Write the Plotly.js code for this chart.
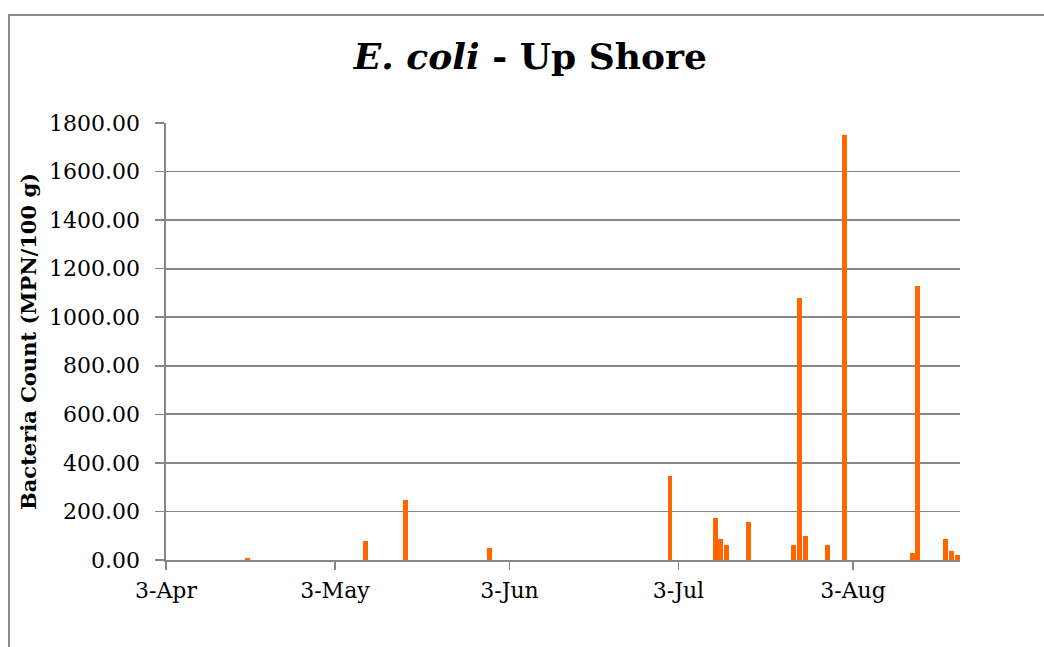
<!DOCTYPE html>
<html>
<head>
<meta charset="utf-8">
<script src="https://cdn.plot.ly/plotly-3.0.1.min.js"></script>
<style>
  html, body { margin: 0; padding: 0; background: #fff; }
  #chart { width: 1044px; height: 647px; }
  #frame { position: absolute; left: 8px; top: 14px; width: 1100px; height: 700px;
           border: 2px solid #8c8c8c; pointer-events: none; box-sizing: border-box; }
</style>
</head>
<body>
<div id="chart"></div>
<div id="frame"></div>
<script>
// Sampling dates (daily bins) and E. coli counts (MPN/100 g)
const sampleDates = ['2013-04-17','2013-05-08','2013-05-15','2013-05-30','2013-07-01',
  '2013-07-09','2013-07-10','2013-07-11','2013-07-15','2013-07-23','2013-07-24',
  '2013-07-25','2013-07-29','2013-08-01','2013-08-13','2013-08-14','2013-08-19',
  '2013-08-20','2013-08-21'];
const ecoliCounts = [10, 77, 248, 48, 345, 174, 88, 62, 158, 60, 1078, 99, 63, 1752, 27, 1128, 88, 36, 19];

const xRange = ['2013-04-03', '2013-08-22'];
const xTickStart = '2013-04-03';
const yTickValues = [0, 200, 400, 600, 800, 1000, 1200, 1400, 1600, 1800];

const DAY = 86400000;
const serif = 'DejaVu Serif, Liberation Serif, serif';
const gray = '#868686';

const trace = {
  type: 'bar',
  x: sampleDates,
  y: ecoliCounts,
  xperiod: DAY,
  xperiodalignment: 'middle',
  width: DAY * 0.88,
  marker: { color: '#ff6600', line: { width: 0 } },
  hoverinfo: 'x+y'
};

const layout = {
  width: 1044, height: 647,
  margin: { l: 166, r: 84, t: 123, b: 87 },
  paper_bgcolor: '#ffffff',
  plot_bgcolor: '#ffffff',
  showlegend: false,
  title: {
    text: '<b><i>E. coli</i> - Up Shore</b>',
    font: { family: serif, size: 36, color: '#000' },
    xref: 'container', x: 0.508, xanchor: 'center',
    yref: 'container', y: 0.913, yanchor: 'middle'
  },
  xaxis: {
    type: 'date',
    range: xRange,
    tick0: xTickStart,
    dtick: 'M1',
    tickformat: '%-d-%b',
    ticks: 'outside', ticklen: 8, tickwidth: 1.5, tickcolor: gray,
    showline: true, linecolor: gray, linewidth: 1.6,
    showgrid: false, zeroline: false,
    tickfont: { family: serif, size: 22, color: '#000' },
    ticklabelstandoff: 2
  },
  yaxis: {
    range: [0, 1800],
    tickvals: yTickValues,
    tickformat: '.2f',
    ticks: 'outside', ticklen: 9, tickwidth: 1.5, tickcolor: gray,
    showline: true, linecolor: gray, linewidth: 1.6,
    showgrid: true, gridcolor: gray, gridwidth: 1.8,
    zeroline: false,
    tickfont: { family: serif, size: 22, color: '#000' },
    ticklabelstandoff: 11,
    title: {
      text: '<b>Bacteria Count (MPN/100 g)</b>',
      font: { family: serif, size: 21, color: '#000' },
      standoff: 6
    }
  },
  bargap: 0
};

Plotly.newPlot('chart', [trace], layout, { displayModeBar: false, staticPlot: true });
</script>
</body>
</html>
